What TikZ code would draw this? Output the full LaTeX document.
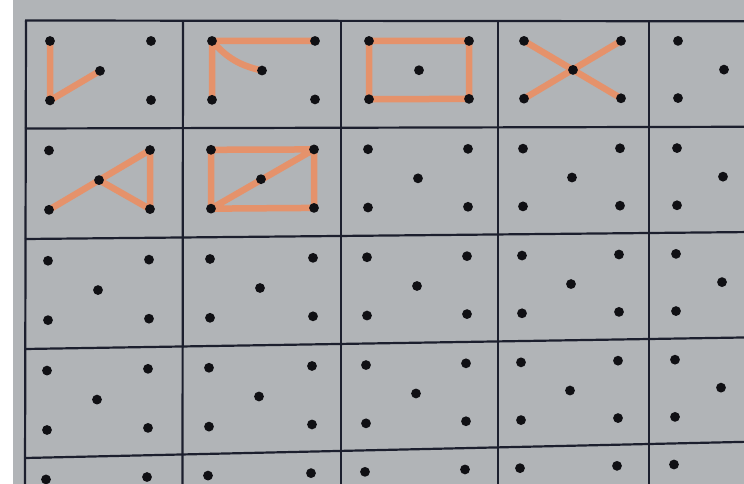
\documentclass[tikz,border=0pt]{standalone}
\usepackage{tikz}
\usetikzlibrary{calc}
\definecolor{paper}{HTML}{B1B4B7}
\definecolor{ink}{HTML}{1C1F2E}
\definecolor{marker}{HTML}{E5926B}
\definecolor{pipcol}{HTML}{101014}

\begin{document}
\begin{tikzpicture}[x=1pt,y=-1pt,
    gridline/.style={ink,line width=2.2pt},
    stroke/.style={marker,line width=6.5pt,line cap=round,line join=round},
    pip/.style={fill=pipcol}]
  \useasboundingbox (0,0) rectangle (744,484);
  \clip (0,0) rectangle (744,484);
  \fill[paper] (0,0) rectangle (744,484);
  \fill[white] (0,0) rectangle (13,484);
  % frame lines
  \foreach \r/\yl/\yr in {0/20.5/21.2,1/128.5/127,2/239/233,3/349/339,4/458/444}
    {\coordinate (h\r a) at (25,\yl);
     \coordinate (h\r b) at (744,{\yl+(\yr-\yl)*718/623});
     \draw[gridline] (h\r a) -- (h\r b);}
  \foreach \c/\xt/\xb in {0/26/25,1/183/182.5,2/341/341,3/498/498,4/649/649}
    {\coordinate (v\c a) at (\xt,{20.5+0.7*(\xt-26)/623});
     \coordinate (v\c b) at (\xb,484);
     \draw[gridline] (v\c a) -- (v\c b);}
  % five dots per box
  \foreach \r/\yl/\yr in {0/19/19.7,1/128.5/127,2/239/233,3/349/339,4/458/444}
    \foreach \c/\xl/\xc/\xr in {0/50/100/151,1/212/262/315,2/369/419/469,3/524/573/621,4/678/724/778}
      \foreach \n/\px/\dy in {tl/\xl/22,tr/\xr/22,c/\xc/52,bl/\xl/81.5,br/\xr/81.5}
        {\pgfmathsetmacro\t{(\px-26)/623}
         \pgfmathsetmacro\py{\yl+(\yr-\yl)*\t+\dy*(1-0.037*\t)}
         \coordinate (d\c\r\n) at ({\px-\r},\py);}
  % marker drawings
  \draw[stroke] (d00tl) -- (d00bl) -- (d00c);
  \draw[stroke] (d10bl) -- (d10tl) -- (d10tr) (d10tl) to[bend right=18] (d10c);
  \draw[stroke] (d20tl) -- (d20tr) -- (d20br) -- (d20bl) -- cycle;
  \draw[stroke] (d30tl) -- (d30br) (d30bl) -- (d30tr);
  \draw[stroke] (d01bl) -- (d01tr) -- (d01br) -- (d01c);
  \draw[stroke] (d11tl) -- (d11tr) -- (d11br) -- (d11bl) -- cycle (d11bl) -- (d11tr);
  \foreach \r in {0,...,4}
    \foreach \c in {0,...,4}
      \foreach \n in {tl,tr,c,bl,br}
        {\fill[pip] (d\c\r\n) circle (4.9);}
\end{tikzpicture}
\end{document}
